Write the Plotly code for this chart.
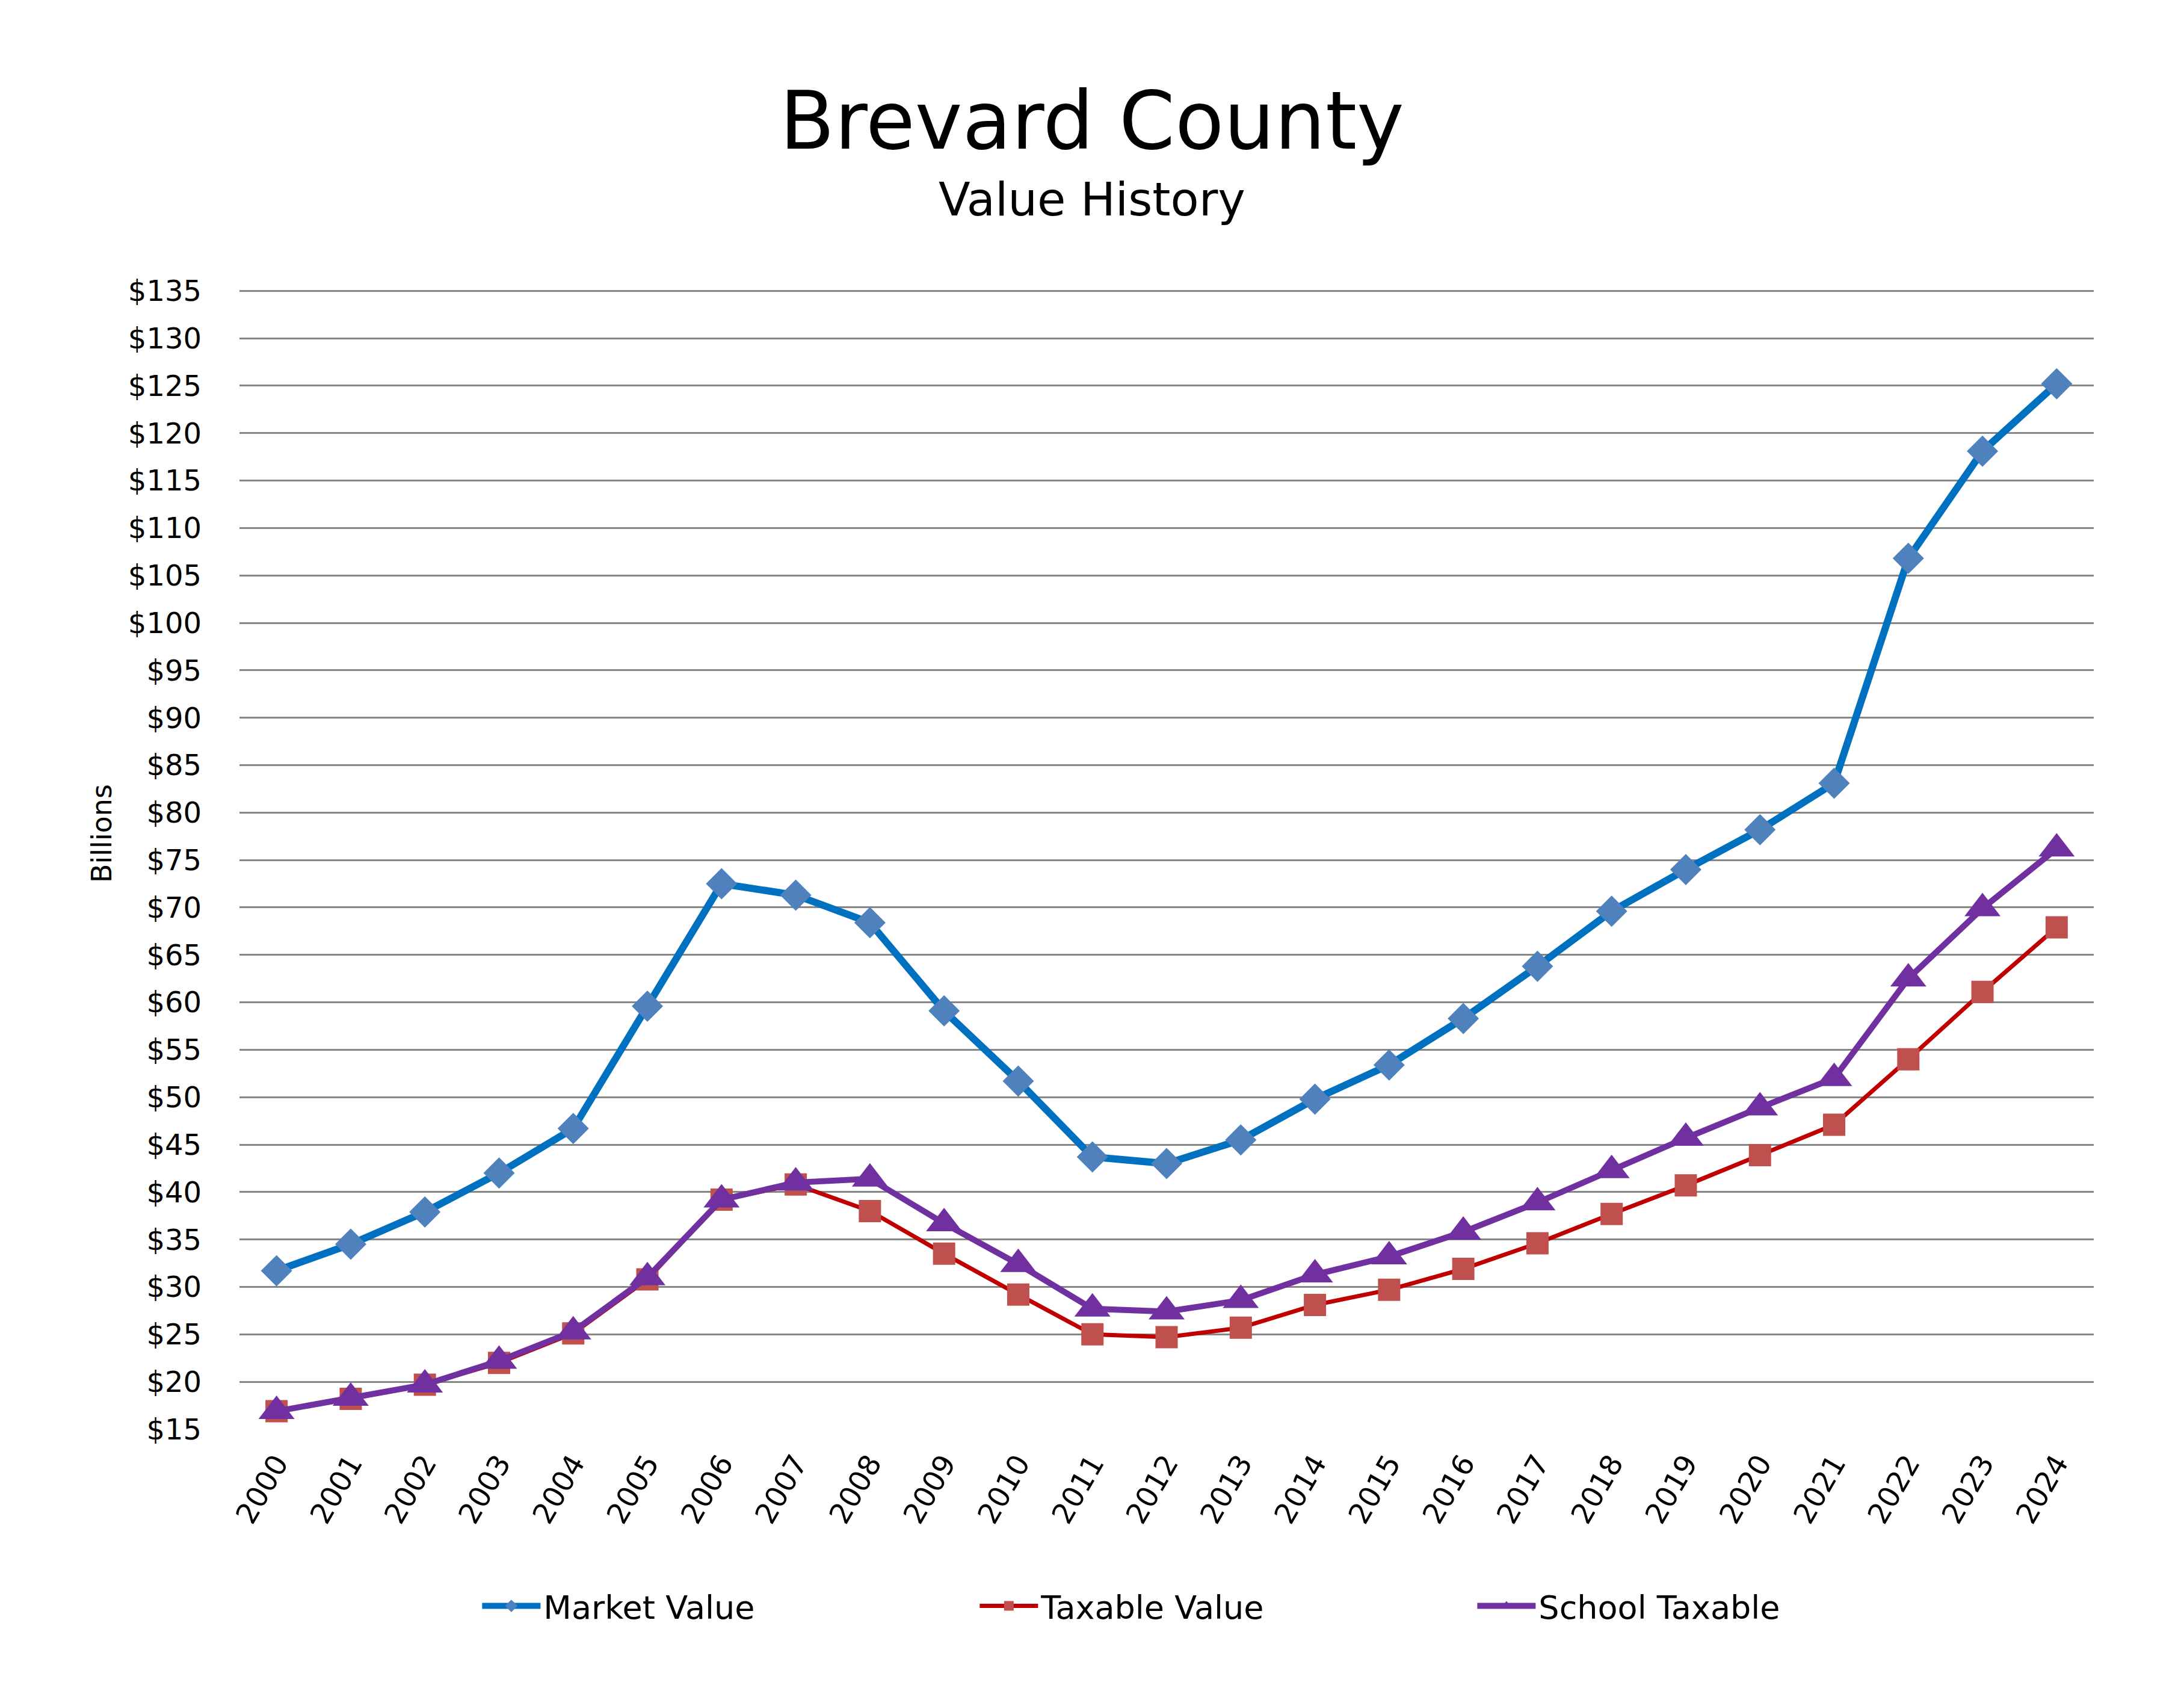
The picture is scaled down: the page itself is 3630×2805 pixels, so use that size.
import plotly.graph_objects as go

years = [str(y) for y in range(2000, 2025)]
market_value = [31.7, 34.5, 37.9, 42.0, 46.7, 59.6, 72.5, 71.3, 68.4, 59.1, 51.7, 43.7, 43.0,
                45.5, 49.8, 53.4, 58.3, 63.8, 69.6, 74.0, 78.2, 83.1, 106.8, 118.1, 125.2]
taxable_value = [16.9, 18.2, 19.7, 22.0, 25.1, 30.8, 39.2, 40.8, 38.0, 33.5, 29.2, 25.0, 24.7,
                 25.7, 28.1, 29.7, 31.9, 34.6, 37.7, 40.7, 43.9, 47.1, 54.0, 61.1, 67.9]
school_taxable = [16.9, 18.3, 19.7, 22.2, 25.3, 31.0, 39.2, 41.0, 41.4, 36.7, 32.4, 27.7, 27.4,
                  28.6, 31.3, 33.2, 35.8, 38.9, 42.3, 45.7, 48.9, 52.0, 62.5, 69.9, 76.2]
y_ticks = list(range(15, 136, 5))
y_tick_labels = [f"${v}" for v in y_ticks]

FONT = "DejaVu Sans"
W, H = 3630, 2805
L, R, T, B = 398, 150, 477, 430

fig = go.Figure()
fig.add_trace(go.Scatter(
    x=years, y=market_value, name="Market Value", mode="lines+markers",
    line=dict(color="#0070C0", width=12),
    marker=dict(symbol="diamond", size=40, color="#4F81BD", line=dict(width=0)),
))
fig.add_trace(go.Scatter(
    x=years, y=taxable_value, name="Taxable Value", mode="lines+markers",
    line=dict(color="#C00000", width=7),
    marker=dict(symbol="square", size=37, color="#C0504D", line=dict(width=0)),
))
fig.add_trace(go.Scatter(
    x=years, y=school_taxable, name="School Taxable", mode="lines+markers",
    line=dict(color="#7030A0", width=10),
    marker=dict(symbol="triangle-up", size=52, color="#7030A0", line=dict(width=0)),
))

PW, PH = W - L - R, H - T - B
fig.update_layout(
    width=W, height=H,
    margin=dict(l=L, r=R, t=T, b=B, pad=0),
    paper_bgcolor="white", plot_bgcolor="white",
    font=dict(family=FONT, size=48, color="black"),
    showlegend=True,
    legend=dict(
        orientation="h", x=(344 * 2.315 - L) / PW, xanchor="left",
        y=-(2669 - (H - B)) / PH, yanchor="middle",
        font=dict(family=FONT, size=54, color="black"),
        itemwidth=97, entrywidth=715, entrywidthmode="pixels",
        bgcolor="rgba(0,0,0,0)",
    ),
    xaxis=dict(
        type="category", range=[-0.5, 24.5], showgrid=False, zeroline=False,
        showline=False, tickangle=-60, ticks="", ticklabelstandoff=18,
        tickfont=dict(family=FONT, size=48, color="black"),
    ),
    yaxis=dict(
        range=[15, 135.4], tickvals=y_ticks, ticktext=y_tick_labels,
        showgrid=True, gridcolor="#868686", gridwidth=3, zeroline=False,
        showline=False, ticks="", ticklabelstandoff=62,
        tickfont=dict(family=FONT, size=48, color="black"),
    ),
    annotations=[
        dict(text="Brevard County", xref="paper", yref="paper",
             x=0.5 + ((W / 2) - (L + PW / 2)) / PW,
             y=1 + (T - 201) / PH, xanchor="center", yanchor="middle",
             showarrow=False, font=dict(family=FONT, size=133, color="black")),
        dict(text="Value History", xref="paper", yref="paper",
             x=0.5 + ((W / 2) - (L + PW / 2)) / PW,
             y=1 + (T - 331) / PH, xanchor="center", yanchor="middle",
             showarrow=False, font=dict(family=FONT, size=77, color="black")),
        dict(text="Billions", xref="paper", yref="paper",
             x=(169 - L) / PW, y=(H - B - 1385) / PH,
             xanchor="center", yanchor="middle", textangle=-90,
             showarrow=False, font=dict(family=FONT, size=46, color="black")),
    ],
)

fig.write_html("out.html")
